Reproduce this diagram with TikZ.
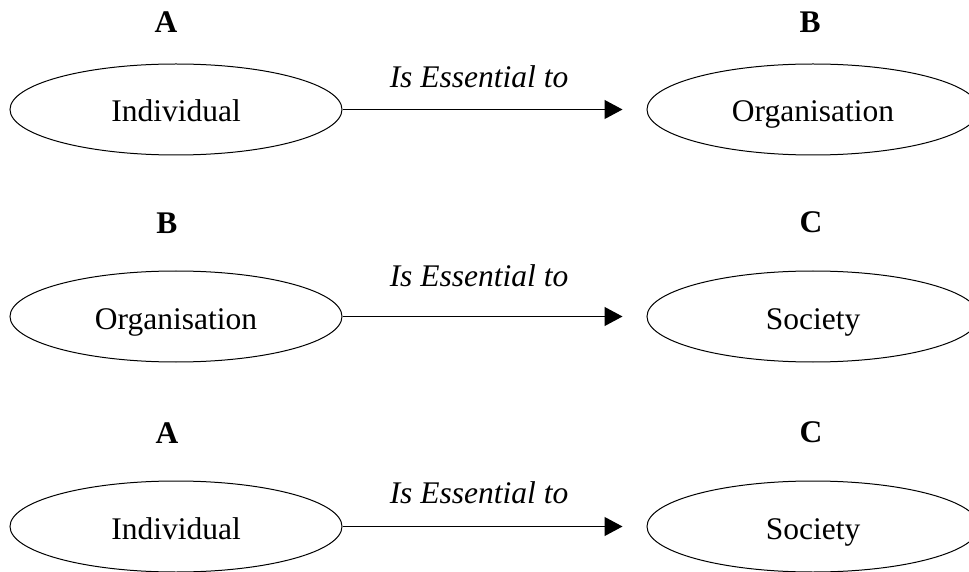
\documentclass[tikz,border=0pt]{standalone}
\usepackage{fontspec}
\setmainfont{Liberation Serif}
\usetikzlibrary{shapes.geometric,arrows.meta,positioning}
\newcommand{\diagfont}{\fontsize{31.5}{37}\selectfont}

\begin{document}
\begin{tikzpicture}[x=1pt,y=1pt,
  blob/.style={ellipse,draw,line width=1pt,minimum width=332pt,minimum height=91pt,inner sep=0pt,
    text height=25pt,text depth=0pt,font=\diagfont},
  tag/.style={inner sep=0pt,font=\diagfont\bfseries},
  rel/.style={inner sep=0pt,anchor=base,font=\diagfont\itshape},
  flow/.style={line width=1.2pt,-{Triangle[length=18pt,width=19pt]},shorten >=24pt}]

\useasboundingbox (0,0) rectangle (969,571);

% Row 1: A to B
\node[blob] (ind1) at (176,461.5) {Individual};
\node[blob] (org1) at (813,461.5) {Organisation};
\node[tag, above=31pt of ind1, xshift=-10pt] (a1) {A};
\node[tag, above=31pt of org1, xshift=-3pt] (b1) {B};
\node[rel] (ess1) at (479,483) {Is Essential to};
\draw[flow] (ind1) -- (org1);

% Row 2: B to C
\node[blob] (org2) at (176,254.5) {Organisation};
\node[blob] (soc2) at (813,254.5) {Society};
\node[tag, above=37pt of org2, xshift=-9pt] (b2) {B};
\node[tag, above=37pt of soc2, xshift=-2pt] (c2) {C};
\node[rel] (ess2) at (479,284) {Is Essential to};
\draw[flow] (org2) -- (soc2);

% Row 3: A to C
\node[blob] (ind3) at (176,44.5) {Individual};
\node[blob] (soc3) at (813,44.5) {Society};
\node[tag, above=37pt of ind3, xshift=-9pt] (a3) {A};
\node[tag, above=37pt of soc3, xshift=-2pt] (c3) {C};
\node[rel] (ess3) at (479,68) {Is Essential to};
\draw[flow] (ind3) -- (soc3);

\end{tikzpicture}
\end{document}
